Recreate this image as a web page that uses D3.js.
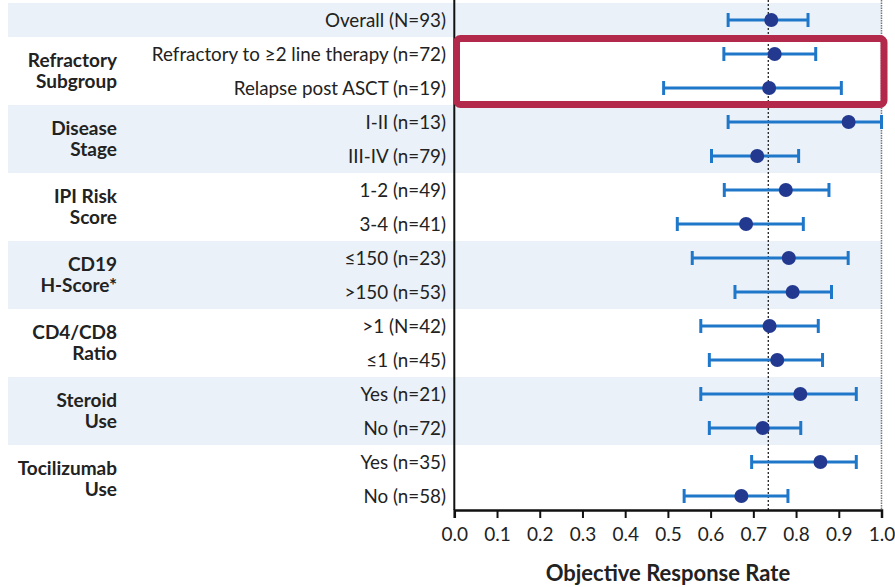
<!DOCTYPE html>
<html>
<head>
<meta charset="utf-8">
<script src="https://cdn.jsdelivr.net/npm/d3@7"></script>
<style>
  html, body { margin: 0; padding: 0; background: #fff; }
  svg { display: block; }
  text { font-family: Lato, "Open Sans", sans-serif; fill: #222; }
</style>
</head>
<body>
<svg id="chart" width="895" height="587"></svg>
<script>
// Subgroup rows, top to bottom
const categories = [
  "Overall (N=93)",
  "Refractory to ≥2 line therapy (n=72)",
  "Relapse post ASCT (n=19)",
  "I-II (n=13)",
  "III-IV (n=79)",
  "1-2 (n=49)",
  "3-4 (n=41)",
  "≤150 (n=23)",
  ">150 (n=53)",
  ">1 (N=42)",
  "≤1 (n=45)",
  "Yes (n=21)",
  "No (n=72)",
  "Yes (n=35)",
  "No (n=58)"
];

// Objective response rate and 95% confidence limits per row
const orr    = [0.742, 0.750, 0.737, 0.923, 0.709, 0.776, 0.683, 0.783, 0.792, 0.738, 0.756, 0.810, 0.722, 0.857, 0.672];
const ciLow  = [0.641, 0.631, 0.490, 0.641, 0.602, 0.632, 0.522, 0.557, 0.657, 0.577, 0.597, 0.577, 0.597, 0.696, 0.538];
const ciHigh = [0.828, 0.846, 0.906, 1.000, 0.806, 0.877, 0.817, 0.922, 0.883, 0.852, 0.862, 0.941, 0.811, 0.941, 0.781];

// Group headings and the rows they span
const groupLabels = [
  ["Refractory", "Subgroup"],
  ["Disease", "Stage"],
  ["IPI Risk", "Score"],
  ["CD19", "H-Score*"],
  ["CD4/CD8", "Ratio"],
  ["Steroid", "Use"],
  ["Tocilizumab", "Use"]
];
const groupRows = [[1, 2], [3, 4], [5, 6], [7, 8], [9, 10], [11, 12], [13, 14]];
const shadedGroups = [1, 3, 5];

// Reference line: overall response rate
const referenceOrr = 0.735;
const xTicks = [0, 0.1, 0.2, 0.3, 0.4, 0.5, 0.6, 0.7, 0.8, 0.9, 1.0];
const xTitle = "Objective Response Rate";

const svg = d3.select("#chart");

const x = d3.scaleLinear().domain([0, 1]).range([454.3, 881.5]);
const y = d3.scaleBand().domain(categories).range([3, 513]).padding(0);
const half = y.bandwidth() / 2;
const cy = c => y(c) + half;
const axisY = 510;
const bandLeft = 8;

// Shaded bands: overall row plus alternating groups
const bands = svg.append("g");
bands.append("rect")
  .attr("x", bandLeft).attr("y", y(categories[0]))
  .attr("width", x(1) - bandLeft).attr("height", y.bandwidth())
  .attr("fill", "#eaf1f8");
bands.selectAll("rect.grp")
  .data(shadedGroups)
  .join("rect")
  .attr("class", "grp")
  .attr("x", bandLeft)
  .attr("y", g => y(categories[groupRows[g][0]]))
  .attr("width", x(1) - bandLeft)
  .attr("height", g => Math.min(y.bandwidth() * groupRows[g].length, axisY - y(categories[groupRows[g][0]])))
  .attr("fill", "#eaf1f8");

// Right boundary (dotted) and reference line
svg.append("line")
  .attr("x1", x(1)).attr("x2", x(1)).attr("y1", 0).attr("y2", axisY)
  .attr("stroke", "#777").attr("stroke-width", 1.5).attr("stroke-dasharray", "1.5,1");
svg.append("line")
  .attr("x1", x(referenceOrr)).attr("x2", x(referenceOrr)).attr("y1", 0).attr("y2", axisY)
  .attr("stroke", "#222").attr("stroke-width", 1.3).attr("stroke-dasharray", "2,2");

// Row labels
svg.append("g").selectAll("text")
  .data(categories)
  .join("text")
  .attr("x", 446)
  .attr("y", d => cy(d))
  .attr("dy", "0.35em")
  .attr("text-anchor", "end")
  .style("font-size", "18.8px")
  .text(d => d);

// Group headings
const gl = svg.append("g").selectAll("text")
  .data(groupLabels)
  .join("text")
  .attr("text-anchor", "end")
  .style("font-size", "19px")
  .style("font-weight", "bold")
  .attr("x", 117)
  .attr("y", (d, i) => {
    const r = groupRows[i];
    return (cy(categories[r[0]]) + cy(categories[r[r.length - 1]])) / 2;
  });
gl.selectAll("tspan")
  .data(d => d)
  .join("tspan")
  .attr("x", 117)
  .attr("dy", (d, i) => i === 0 ? "-0.22em" : "1.1em")
  .text(d => d);

// Confidence intervals
const rows = categories.map((c, i) => ({ c, v: orr[i], lo: ciLow[i], hi: ciHigh[i] }));
const ci = svg.append("g").attr("stroke", "#1f77c9").attr("stroke-width", 3);
ci.selectAll("line.span").data(rows).join("line")
  .attr("class", "span")
  .attr("x1", d => x(d.lo)).attr("x2", d => x(d.hi))
  .attr("y1", d => cy(d.c)).attr("y2", d => cy(d.c));
ci.selectAll("line.capl").data(rows).join("line")
  .attr("class", "capl")
  .attr("x1", d => x(d.lo)).attr("x2", d => x(d.lo))
  .attr("y1", d => cy(d.c) - 7).attr("y2", d => cy(d.c) + 7);
ci.selectAll("line.caph").data(rows).join("line")
  .attr("class", "caph")
  .attr("x1", d => x(d.hi)).attr("x2", d => x(d.hi))
  .attr("y1", d => cy(d.c) - 7).attr("y2", d => cy(d.c) + 7);

// Point estimates
svg.append("g").selectAll("circle").data(rows).join("circle")
  .attr("cx", d => x(d.v)).attr("cy", d => cy(d.c)).attr("r", 7)
  .attr("fill", "#22398f");

// Left axis line
svg.append("line")
  .attr("x1", x(0)).attr("x2", x(0)).attr("y1", 0).attr("y2", axisY)
  .attr("stroke", "#111").attr("stroke-width", 2);

// X axis
const xAxis = svg.append("g")
  .attr("transform", `translate(0,${axisY})`)
  .call(d3.axisBottom(x).tickValues(xTicks).tickFormat(d3.format(".1f")).tickSize(8).tickPadding(10));
xAxis.select(".domain").attr("stroke", "#111").attr("stroke-width", 2.5);
xAxis.selectAll(".tick line").attr("stroke", "#111").attr("stroke-width", 2);
xAxis.selectAll(".tick text")
  .style("font-family", "Lato, sans-serif")
  .style("font-size", "19px")
  .attr("fill", "#222");

svg.append("text")
  .attr("x", (x(0) + x(1)) / 2)
  .attr("y", 573)
  .attr("dy", "0.35em")
  .attr("text-anchor", "middle")
  .style("font-size", "22px")
  .style("font-weight", "bold")
  .text(xTitle);

// Highlight box around the refractory subgroup rows
svg.append("rect")
  .attr("x", 456.5).attr("y", 38.5)
  .attr("width", 884 - 456.5).attr("height", 104.5 - 38.5)
  .attr("rx", 4)
  .attr("fill", "none")
  .attr("stroke", "#b3294c")
  .attr("stroke-width", 7);
</script>
</body>
</html>
